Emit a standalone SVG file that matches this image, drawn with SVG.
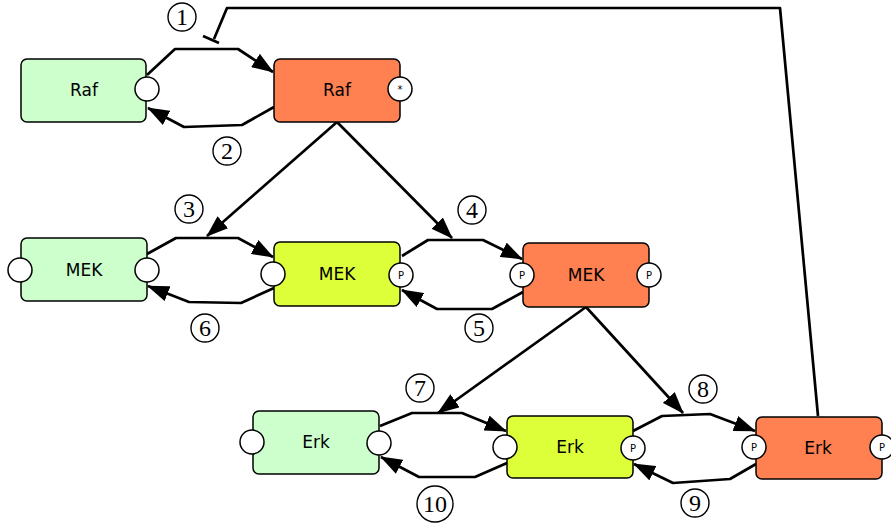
<svg xmlns="http://www.w3.org/2000/svg" width="891" height="528" viewBox="0 0 891 528">
<style>
.g{fill:#ccffcc}
.o{fill:#ff8050}
.y{fill:#ddff3a}
.box{stroke:#000;stroke-width:1.5}
.st{fill:#fff;stroke:#000;stroke-width:1.5}
.lbl{font-family:"DejaVu Sans",sans-serif;font-size:17px;text-anchor:middle;dominant-baseline:central}
.sl{font-family:"DejaVu Sans",sans-serif;font-size:10px;text-anchor:middle;dominant-baseline:central}
.c{fill:none;stroke:#000;stroke-width:2.7;stroke-linejoin:round}
.num circle{fill:none;stroke:#000;stroke-width:1.4}
.num text{font-family:"Liberation Serif",serif;font-size:24px;text-anchor:middle;dominant-baseline:central}
</style>
<defs>
<marker id="ah" viewBox="0 0 22 16" refX="21" refY="8" markerWidth="22" markerHeight="16" markerUnits="userSpaceOnUse" orient="auto"><path d="M0,0 L22,8 L0,16 z" fill="#000"/></marker>
</defs>
<rect width="891" height="528" fill="#fff"/>
<g id="connectors">
<polyline class="c" points="147,75 175,49 238,49 273,72" marker-end="url(#ah)"/>
<polyline class="c" points="274,107 242,125 184,127 148,108" marker-end="url(#ah)"/>
<line class="c" x1="337" y1="122" x2="207" y2="236" marker-end="url(#ah)"/>
<line class="c" x1="337" y1="122" x2="452" y2="238" marker-end="url(#ah)"/>
<polyline class="c" points="147,254 176,238 238,238 273,257" marker-end="url(#ah)"/>
<polyline class="c" points="274,288 241,303 189,302 148,286" marker-end="url(#ah)"/>
<polyline class="c" points="402,256 428,240 483,240 522,259" marker-end="url(#ah)"/>
<polyline class="c" points="523,292 492,309 437,309 402,290" marker-end="url(#ah)"/>
<line class="c" x1="586" y1="307" x2="438" y2="413" marker-end="url(#ah)"/>
<line class="c" x1="586" y1="307" x2="683" y2="413" marker-end="url(#ah)"/>
<polyline class="c" points="380,426 412,413 462,413 506,431" marker-end="url(#ah)"/>
<polyline class="c" points="507,463 475,477 419,477 381,457" marker-end="url(#ah)"/>
<polyline class="c" points="633,431 662,416 710,414 755,431" marker-end="url(#ah)"/>
<polyline class="c" points="756,464 730,479 673,483 634,464" marker-end="url(#ah)"/>
<polyline class="c" points="818,416 780,8 227,8 214,39"/>
<line class="c" x1="203" y1="36" x2="219" y2="43"/>
</g>
<g id="raf1"><rect class="g box" x="21" y="59" width="125" height="63" rx="6"/><text class="lbl" x="84" y="90">Raf</text><circle class="st" cx="147" cy="89" r="12"/></g>
<g id="raf2"><rect class="o box" x="274" y="59" width="126" height="63" rx="6"/><text class="lbl" x="337" y="90">Raf</text><circle class="st" cx="400" cy="89" r="12"/><text class="sl" x="400" y="89">*</text></g>
<g id="mek1"><rect class="g box" x="21" y="238" width="126" height="63" rx="6"/><text class="lbl" x="84" y="270">MEK</text><circle class="st" cx="20" cy="270" r="12"/><circle class="st" cx="147" cy="270" r="12"/></g>
<g id="mek2"><rect class="y box" x="274" y="242" width="126" height="64" rx="6"/><text class="lbl" x="337" y="274">MEK</text><circle class="st" cx="273" cy="274" r="12"/><circle class="st" cx="401" cy="275" r="12"/><text class="sl" x="401" y="275">P</text></g>
<g id="mek3"><rect class="o box" x="523" y="243" width="126" height="64" rx="6"/><text class="lbl" x="586" y="275">MEK</text><circle class="st" cx="522" cy="275" r="12"/><text class="sl" x="522" y="275">P</text><circle class="st" cx="649" cy="275" r="12"/><text class="sl" x="649" y="275">P</text></g>
<g id="erk1"><rect class="g box" x="253" y="411" width="126" height="63" rx="6"/><text class="lbl" x="316" y="442">Erk</text><circle class="st" cx="252" cy="442" r="12"/><circle class="st" cx="379" cy="443" r="12"/></g>
<g id="erk2"><rect class="y box" x="507" y="416" width="126" height="62" rx="6"/><text class="lbl" x="570" y="447">Erk</text><circle class="st" cx="505" cy="447" r="12"/><circle class="st" cx="633" cy="448" r="12"/><text class="sl" x="633" y="448">P</text></g>
<g id="erk3"><rect class="o box" x="756" y="417" width="126" height="62" rx="6"/><text class="lbl" x="818" y="448">Erk</text><circle class="st" cx="754" cy="447" r="12"/><text class="sl" x="754" y="447">P</text><circle class="st" cx="882" cy="447" r="12"/><text class="sl" x="882" y="447">P</text></g>
<g id="labels" class="num">
<circle cx="182" cy="17" r="14"/><text x="182" y="17">1</text>
<circle cx="227" cy="151" r="14"/><text x="227" y="151">2</text>
<circle cx="189" cy="209" r="14"/><text x="189" y="209">3</text>
<circle cx="472" cy="210" r="14"/><text x="472" y="210">4</text>
<circle cx="479" cy="328" r="14"/><text x="479" y="328">5</text>
<circle cx="205" cy="328" r="14"/><text x="205" y="328">6</text>
<circle cx="420" cy="388" r="14"/><text x="420" y="388">7</text>
<circle cx="703" cy="389" r="14"/><text x="703" y="389">8</text>
<circle cx="695" cy="503" r="14"/><text x="695" y="503">9</text>
<circle cx="435" cy="504" r="18"/><text x="435" y="504">10</text>
</g>
</svg>
